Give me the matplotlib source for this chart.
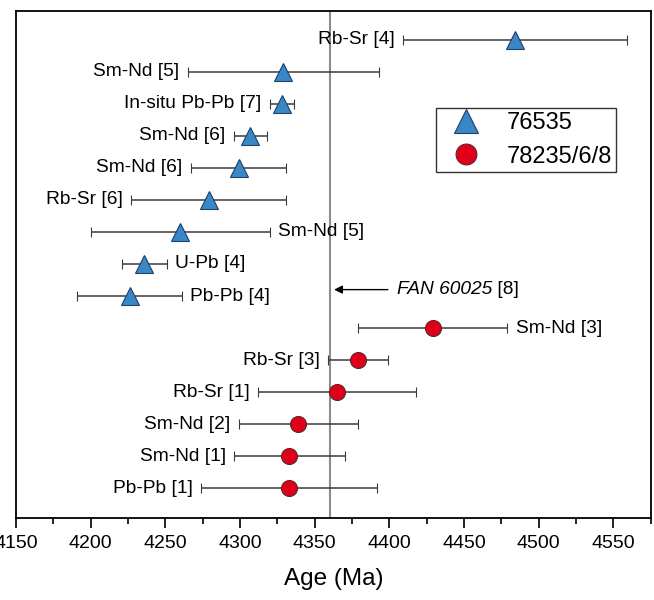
import matplotlib
matplotlib.use("Agg")
import matplotlib.pyplot as plt
from matplotlib.ticker import MultipleLocator
from matplotlib.lines import Line2D

plt.rcParams['font.family'] = ['Liberation Sans', 'DejaVu Sans']

# Sample 76535 (triangles)
tri_labels = ["Rb-Sr [4]", "Sm-Nd [5]", "In-situ Pb-Pb [7]", "Sm-Nd [6]", "Sm-Nd [6]",
              "Rb-Sr [6]", "Sm-Nd [5]", "U-Pb [4]", "Pb-Pb [4]"]
tri_age = [4484, 4329, 4328, 4307, 4299, 4279, 4260, 4236, 4226]
tri_err = [75, 64, 8, 11, 32, 52, 60, 15, 35]
tri_side = ["left", "left", "left", "left", "left", "left", "right", "right", "right"]

# Samples 78235/6/8 (circles)
cir_labels = ["Sm-Nd [3]", "Rb-Sr [3]", "Rb-Sr [1]", "Sm-Nd [2]", "Sm-Nd [1]", "Pb-Pb [1]"]
cir_age = [4429, 4379, 4365, 4339, 4333, 4333]
cir_err = [50, 20, 53, 40, 37, 59]
cir_side = ["right", "left", "left", "left", "left", "left"]

fan_age = 4360
fan_row = 7.8

tri_rows = list(range(len(tri_age)))
cir_rows = [len(tri_age) + i for i in range(len(cir_age))]

fig = plt.figure(figsize=(6.54, 6.0), dpi=100)
ax = fig.add_axes([0.0245, 0.1367, 0.9705, 0.845])

ax.axvline(fan_age, color="#8c8c8c", lw=1.5, zorder=1)

ecol = "#3a3a3a"
tri_style = dict(marker="^", ms=13, mfc="#3a87c8", mec="#1f3f66", mew=0.8)
cir_style = dict(marker="o", ms=11.5, mfc="#e0001a", mec="#5a2a2a", mew=0.8)
ax.errorbar(tri_age, tri_rows, xerr=tri_err, ls="none", ecolor=ecol, elinewidth=1.1,
            capsize=3.6, capthick=1.1, zorder=3, **tri_style)
ax.errorbar(cir_age, cir_rows, xerr=cir_err, ls="none", ecolor=ecol, elinewidth=1.1,
            capsize=3.6, capthick=1.1, zorder=3, **cir_style)

for labels, ages, errs, rows, sides in [(tri_labels, tri_age, tri_err, tri_rows, tri_side),
                                        (cir_labels, cir_age, cir_err, cir_rows, cir_side)]:
    for lab, a, e, r, s in zip(labels, ages, errs, rows, sides):
        if s == "left":
            ax.annotate(lab, xy=(a - e, r), xytext=(-6, 0), textcoords="offset points",
                        ha="right", va="center", fontsize=13.8)
        else:
            ax.annotate(lab, xy=(a + e, r), xytext=(6, 0), textcoords="offset points",
                        ha="left", va="center", fontsize=13.8)

# FAN arrow
ax.annotate("", xy=(fan_age + 3, fan_row), xytext=(fan_age + 39, fan_row),
            arrowprops=dict(arrowstyle="-|>", color="black", lw=1.0, mutation_scale=12,
                            shrinkA=0, shrinkB=0))
t1 = ax.text(fan_age + 45, fan_row, "FAN 60025", ha="left", va="center", fontsize=13.8,
             style="italic")
ax.annotate(" [8]", xy=(1, 0.5), xycoords=t1, ha="left", va="center", fontsize=13.8)

ax.set_xlim(4150, 4575)
ax.set_ylim(14.93, -0.9)
ax.set_yticks([])
ax.xaxis.set_major_locator(MultipleLocator(50))
ax.xaxis.set_minor_locator(MultipleLocator(25))
ax.tick_params(axis="x", which="major", length=7, width=1.2, labelsize=14, pad=5)
ax.tick_params(axis="x", which="minor", length=4, width=1.2)
for sp in ax.spines.values():
    sp.set_linewidth(1.3)
ax.set_xlabel("Age (Ma)", fontsize=17.5, labelpad=12)

handles = [Line2D([], [], ls="none", marker="^", ms=17, mfc="#3a87c8", mec="#1f3f66", mew=0.8),
           Line2D([], [], ls="none", marker="o", ms=15, mfc="#e0001a", mec="#5a2a2a", mew=0.8)]
leg = ax.legend(handles, ["76535", "78235/6/8"], loc="upper left",
                bbox_to_anchor=(0.661, 0.809), fontsize=17, frameon=True,
                fancybox=False, edgecolor="black", handletextpad=0.65, borderpad=0.17,
                labelspacing=0.5, handlelength=2.2, borderaxespad=0)
leg.get_frame().set_linewidth(1.0)

fig.savefig("out.png", dpi=100)
